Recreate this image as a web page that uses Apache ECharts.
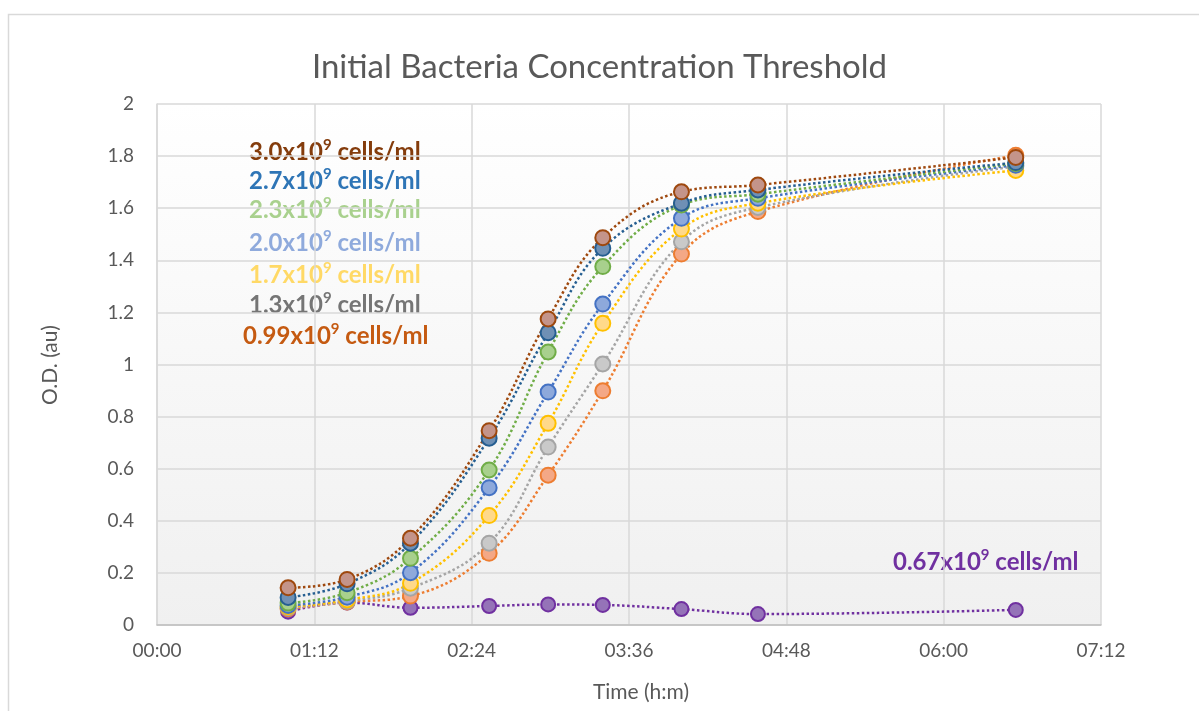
<!DOCTYPE html>
<html>
<head>
<meta charset="utf-8">
<title>Initial Bacteria Concentration Threshold</title>
<script src="https://cdn.jsdelivr.net/npm/echarts@6/dist/echarts.min.js"></script>
<style>
  html, body { margin: 0; padding: 0; background: #fff; }
  #chart { width: 1199px; height: 711px; }
</style>
</head>
<body>
<div id="chart"></div>
<script>
// sampling times, minutes after start
const times = [60, 87, 116, 152, 179, 204, 240, 275, 393];

// O.D. readings per starting concentration
const od300 = [0.143, 0.175, 0.333, 0.746, 1.175, 1.487, 1.663, 1.689, 1.795];
const od270 = [0.106, 0.158, 0.314, 0.717, 1.122, 1.446, 1.619, 1.670, 1.775];
const od230 = [0.084, 0.124, 0.256, 0.595, 1.048, 1.376, 1.612, 1.654, 1.772];
const od200 = [0.075, 0.107, 0.201, 0.527, 0.894, 1.232, 1.561, 1.638, 1.765];
const od170 = [0.070, 0.096, 0.160, 0.420, 0.774, 1.158, 1.520, 1.619, 1.745];
const od130 = [0.066, 0.091, 0.141, 0.314, 0.683, 1.002, 1.471, 1.603, 1.760];
const od099 = [0.062, 0.088, 0.111, 0.275, 0.575, 0.899, 1.424, 1.587, 1.803];
const od067 = [0.051, 0.086, 0.066, 0.073, 0.079, 0.077, 0.061, 0.042, 0.058];

const yTicks = { min: 0, max: 2, step: 0.2 };
const xTicks = { min: 0, max: 432, step: 72 };

// drawn bottom to top (last one sits on top)
const seriesList = [
  { name: '0.67', data: od067, line: '#7030A0', fill: '#9573B8', text: '#7030A0', label: '0.67' },
  { name: '0.99', data: od099, line: '#ED7D31', fill: '#F4A886', text: '#C55A11', label: '0.99' },
  { name: '1.3', data: od130, line: '#A5A5A5', fill: '#C9C9C9', text: '#757575', label: '1.3' },
  { name: '1.7', data: od170, line: '#FFC000', fill: '#FFD98A', text: '#FFD966', label: '1.7' },
  { name: '2.0', data: od200, line: '#4472C4', fill: '#8EA9DB', text: '#8FAADC', label: '2.0' },
  { name: '2.3', data: od230, line: '#70AD47', fill: '#A8D08D', text: '#A9D18E', label: '2.3' },
  { name: '2.7', data: od270, line: '#255E91', fill: '#6F90B5', text: '#2E75B6', label: '2.7' },
  { name: '3.0', data: od300, line: '#9E480E', fill: '#C4948A', text: '#843C0C', label: '3.0' }
];

// where the free text boxes sit
const labelPos = {
  '3.0': [249, 152], '2.7': [249, 181], '2.3': [249, 210], '2.0': [249, 243],
  '1.7': [249, 275], '1.3': [249, 305], '0.99': [243, 336], '0.67': [893, 562]
};

const font = 'Lato, "Open Sans", sans-serif';

function hm(v) {
  const h = Math.floor(v / 60), m = Math.round(v % 60);
  return String(h).padStart(2, '0') + ':' + String(m).padStart(2, '0');
}

const chart = echarts.init(document.getElementById('chart'));

const graphics = [
  {
    type: 'rect', silent: true, z: -10,
    shape: { x: 8.5, y: 14.5, width: 1400, height: 900 },
    style: { fill: 'none', stroke: '#d9d9d9', lineWidth: 1.5 }
  },
  {
    type: 'text', x: 641, y: 692,
    style: { text: 'Time (h:m)', font: '21px ' + font, fill: '#595959', align: 'center', verticalAlign: 'middle' }
  },
  {
    type: 'text', x: 50, y: 365, rotation: Math.PI / 2,
    style: { text: 'O.D. (au)', font: '21px ' + font, fill: '#595959', align: 'center', verticalAlign: 'middle' }
  }
];

seriesList.forEach(s => {
  const p = labelPos[s.label];
  graphics.push({
    type: 'text', x: p[0], y: p[1],
    style: {
      text: '{a|' + s.label + 'x10}{s|9}{a| cells/ml}',
      verticalAlign: 'middle',
      rich: {
        a: { fontFamily: font, fontWeight: 'bold', fontSize: 24, fill: s.text, lineHeight: 28 },
        s: { fontFamily: font, fontWeight: 'bold', fontSize: 15, fill: s.text, lineHeight: 28, verticalAlign: 'top', padding: [0, 0, 9, 0] }
      }
    }
  });
});

const option = {
  animation: false,
  backgroundColor: '#ffffff',
  title: {
    text: 'Initial Bacteria Concentration Threshold',
    left: 'center',
    top: 46,
    textStyle: { fontFamily: font, fontWeight: 'normal', fontSize: 33, color: '#595959' }
  },
  grid: {
    left: 157, right: 98, top: 104, bottom: 86,
    show: true, borderWidth: 0,
    backgroundColor: new echarts.graphic.LinearGradient(0, 0, 0, 1, [
      { offset: 0, color: '#ffffff' },
      { offset: 1, color: '#f0f0f0' }
    ]),
    outerBoundsMode: 'none'
  },
  xAxis: {
    type: 'value',
    min: xTicks.min, max: xTicks.max, interval: xTicks.step,
    axisLine: { show: true, lineStyle: { color: '#bfbfbf', width: 1.5 } },
    axisTick: { show: false },
    splitLine: { show: true, lineStyle: { color: '#d9d9d9', width: 1.5 } },
    axisLabel: { formatter: hm, color: '#595959', fontFamily: font, fontSize: 19, margin: 16 }
  },
  yAxis: {
    type: 'value',
    min: yTicks.min, max: yTicks.max, interval: yTicks.step,
    axisLine: { show: true, lineStyle: { color: '#d9d9d9', width: 1.5 } },
    axisTick: { show: false },
    splitLine: { show: true, lineStyle: { color: '#d9d9d9', width: 1.5 } },
    axisLabel: { color: '#595959', fontFamily: font, fontSize: 19, margin: 23 }
  },
  series: seriesList.map(s => ({
    name: s.name,
    type: 'line',
    smooth: 0.4,
    symbol: 'circle',
    symbolSize: s.name === '0.67' ? 14 : 15,
    data: times.map((t, i) => [t, s.data[i]]),
    lineStyle: { color: s.line, width: 2.5, type: 'dotted' },
    itemStyle: { color: s.fill, borderColor: s.line, borderWidth: 2 }
  })),
  graphic: graphics
};

chart.setOption(option);
</script>
</body>
</html>
